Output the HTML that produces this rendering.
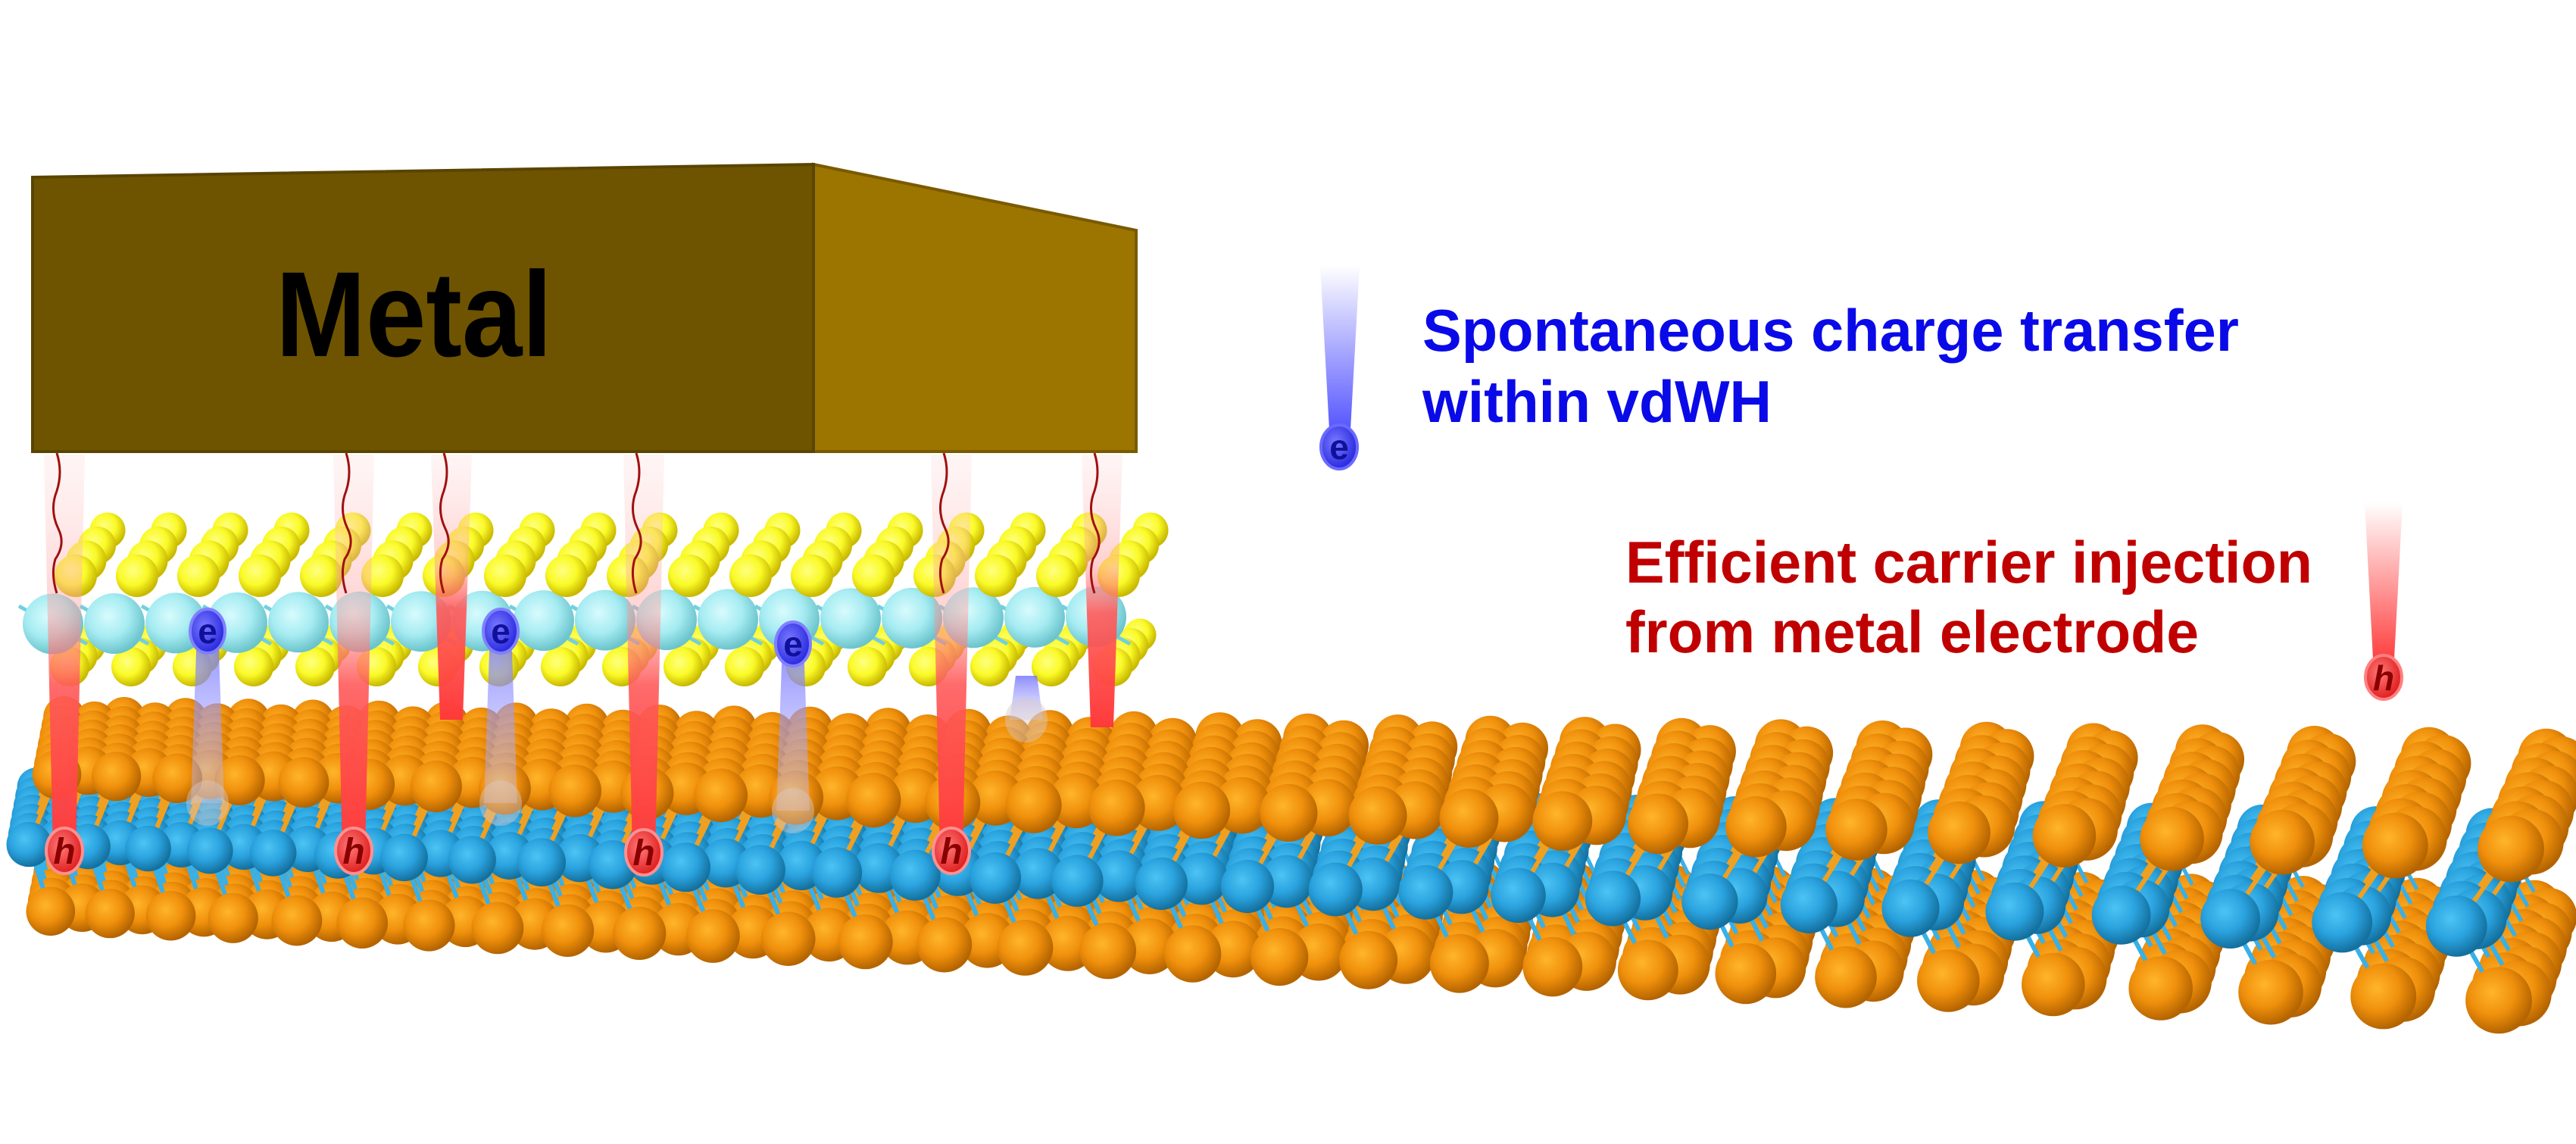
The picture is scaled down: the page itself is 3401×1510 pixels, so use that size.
<!DOCTYPE html>
<html><head><meta charset="utf-8"><style>
html,body{margin:0;padding:0;background:#fff;}
svg{display:block;}
text{font-family:"Liberation Sans",Arial,sans-serif;font-weight:bold;}
</style></head><body>
<svg id="s" xmlns="http://www.w3.org/2000/svg" width="3401" height="1510" viewBox="0 0 3401 1510">
<defs>
<radialGradient id="gO" cx="0.4" cy="0.38" r="0.62"><stop offset="0" stop-color="#ffb52a"/><stop offset="0.55" stop-color="#f0900c"/><stop offset="1" stop-color="#b46400"/></radialGradient>
<radialGradient id="gB" cx="0.4" cy="0.38" r="0.62"><stop offset="0" stop-color="#4cc4f4"/><stop offset="0.55" stop-color="#2aa2de"/><stop offset="1" stop-color="#14709e"/></radialGradient>
<radialGradient id="gC" cx="0.4" cy="0.38" r="0.62"><stop offset="0" stop-color="#d8fbfd"/><stop offset="0.55" stop-color="#a6ecf2"/><stop offset="1" stop-color="#6cc4cc"/></radialGradient>
<radialGradient id="gY" cx="0.4" cy="0.38" r="0.62"><stop offset="0" stop-color="#ffff80"/><stop offset="0.55" stop-color="#fafa28"/><stop offset="1" stop-color="#c8b800"/></radialGradient>
<linearGradient id="gR" x1="0" y1="0" x2="0" y2="1"><stop offset="0" stop-color="#ffd8d8" stop-opacity="0.25"/><stop offset="0.4" stop-color="#ff9a9a" stop-opacity="0.45"/><stop offset="0.58" stop-color="#ff5a5a" stop-opacity="0.9"/><stop offset="1" stop-color="#ff3a3a"/></linearGradient>
<linearGradient id="gBl" x1="0" y1="0" x2="0" y2="1"><stop offset="0" stop-color="#7070ff" stop-opacity="0.8"/><stop offset="1" stop-color="#c8c8ff" stop-opacity="0.35"/></linearGradient>
<linearGradient id="gE" x1="0" y1="0" x2="0" y2="1"><stop offset="0" stop-color="#ffffff"/><stop offset="1" stop-color="#4848ff"/></linearGradient>
<linearGradient id="gH" x1="0" y1="0" x2="0" y2="1"><stop offset="0" stop-color="#ffffff"/><stop offset="1" stop-color="#ff3030"/></linearGradient>
<radialGradient id="gEc" cx="0.4" cy="0.4" r="0.6"><stop offset="0" stop-color="#7a7aff"/><stop offset="1" stop-color="#2a2ae0"/></radialGradient>
<radialGradient id="gHc" cx="0.4" cy="0.4" r="0.6"><stop offset="0" stop-color="#ff7a7a"/><stop offset="1" stop-color="#e02020"/></radialGradient>
</defs>
<g id="lower"></g>
<g id="upper"></g>
<g id="bars"></g>
<polygon points="1074,217 1500,304 1500,596 1074,596" fill="#9c7400" stroke="#7a5a00" stroke-width="4"/>
<polygon points="43,234 1074,217 1074,596 43,596" fill="#6e5400" stroke="#5a4400" stroke-width="4"/>
<text x="364" y="470" font-size="160" textLength="365" lengthAdjust="spacingAndGlyphs" fill="#000">Metal</text>
<polygon points="1743,351 1795,351 1782,585 1756,585" fill="url(#gE)"/>
<ellipse cx="1768" cy="590" rx="24" ry="29" fill="url(#gEc)" stroke="#6a6aff" stroke-width="4"/>
<text x="1768" y="606" font-size="46" text-anchor="middle" fill="#10109a">e</text>
<polygon points="3122,663 3172,663 3160,888 3134,888" fill="url(#gH)"/>
<ellipse cx="3147" cy="894" rx="24" ry="29" fill="url(#gHc)" stroke="#ff8080" stroke-width="4"/>
<text x="3147" y="911" font-size="46" font-style="italic" text-anchor="middle" fill="#8a0000">h</text>
<text x="1878" y="463" font-size="78" textLength="1078" lengthAdjust="spacingAndGlyphs" fill="#0a0ae8">Spontaneous charge transfer</text>
<text x="1878" y="557" font-size="78" textLength="461" lengthAdjust="spacingAndGlyphs" fill="#0a0ae8">within vdWH</text>
<text x="2146" y="769" font-size="78" textLength="907" lengthAdjust="spacingAndGlyphs" fill="#c00000">Efficient carrier injection</text>
<text x="2146" y="861" font-size="78" textLength="757" lengthAdjust="spacingAndGlyphs" fill="#c00000">from metal electrode</text>
</svg>
<script>
const NS='http://www.w3.org/2000/svg';
function el(p,t,a){const e=document.createElementNS(NS,t);for(const k in a)e.setAttribute(k,a[k]);p.appendChild(e);return e;}
function interp(P,x){if(x<=P[0][0])return P[0][1];for(let i=1;i<P.length;i++){if(x<=P[i][0]){const t=(x-P[i-1][0])/(P[i][0]-P[i-1][0]);return P[i-1][1]+t*(P[i][1]-P[i-1][1]);}}return P[P.length-1][1];}
const L=document.getElementById('lower');
function atom(g,x,y,r,f){el(g,'circle',{cx:x.toFixed(1),cy:y.toFixed(1),r:r.toFixed(1),fill:'url(#'+f+')'});}
let cols=[],x=0;while(x<3300){cols.push(x);x+=80+x*0.024;}
const mx=cols[cols.length-1];cols=cols.map(v=>75+v*(3315-75)/mx);
const topP=[[0,1020],[1500,1067],[3400,1123]];
const K=6;
function P(cx,j,half){
  const s=80+cx*0.024;const H=75+cx*0.014;
  const t=Math.max(0,Math.min(1,(cx-1300)/1600));
  const shift=half?(0.5-0.36*t):0;
  const xx=cx+shift*s;
  const fac=0.12+cx*0.00008;
  const dx=j*fac*H/K,dy=-j*H/K,sc=1-0.15*j/K;
  const yT=interp(topP,xx);const r=(32+xx*0.0036)*sc;
  return {x:xx+dx,y:yT+dy,r:r,s:s,ob:180+xx*0.006,obl:92+xx*0.003,sc:sc};
}
const items=[];
for(let j=K;j>=0;j--){for(const h of [0.5,0]){const jj=j+h;if(jj>K)continue;items.push([jj,h]);}}
for(const [jj,h] of items){
  for(const cx of cols){const p=P(cx,jj,h); if(p.x>3390)continue;
    el(L,'line',{x1:p.x.toFixed(1),y1:p.y.toFixed(1),x2:(p.x-0.45*p.s).toFixed(1),y2:(p.y+p.obl).toFixed(1),stroke:'#f0a020','stroke-width':6*p.sc});
    el(L,'line',{x1:(p.x-0.45*p.s).toFixed(1),y1:(p.y+p.obl).toFixed(1),x2:(p.x-0.1*p.s).toFixed(1),y2:(p.y+p.ob).toFixed(1),stroke:'#38b0e8','stroke-width':6*p.sc});
    atom(L,p.x-0.1*p.s,p.y+p.ob,p.r,'gO');}
  for(const cx of cols){const p=P(cx,jj,h); if(p.x>3390)continue; atom(L,p.x-0.45*p.s,p.y+p.obl,p.r*0.92,'gB');}
  for(const cx of cols){const p=P(cx,jj,h); if(p.x>3390)continue; atom(L,p.x,p.y,p.r,'gO');}
}
const U=document.getElementById('upper');
const ux=[];for(let v=70;v<=1480;v+=81)ux.push(v);
const KY=3;
for(let j=KY;j>=0;j--){for(const cx of ux){atom(U,cx+22+j*12,880-j*14,26-j*1.5,'gY');}}
for(const cx of ux){el(U,'line',{x1:cx-45,y1:800,x2:cx+45,y2:850,stroke:'#70d0e0','stroke-width':5});}
for(const cx of ux){atom(U,cx,824-(cx/1480)*10,40,'gC');}
for(let j=KY;j>=0;j--){for(const cx of ux){atom(U,cx+30+j*14,760-j*20,28-j*1.5,'gY');}}
const B=document.getElementById('bars');
function redbar(x,yb,circle){
  el(B,'polygon',{points:`${x-27},600 ${x+27},600 ${x+15},${yb} ${x-15},${yb}`,fill:'url(#gR)'});
  el(B,'path',{d:`M${x-10},598 q8,25 0,50 q-10,25 2,50 q10,20 -4,40 q-6,20 2,45`,fill:'none',stroke:'#a01010','stroke-width':3});
  if(circle){el(B,'ellipse',{cx:x,cy:yb,rx:24,ry:30,fill:'url(#gHc)',stroke:'#ff9090','stroke-width':4});
    const t=el(B,'text',{x:x,y:yb+17,'font-size':48,'font-style':'italic','text-anchor':'middle',fill:'#8a0000'});t.textContent='h';}
}
function bluebar(x,yt,yb,circle){
  el(B,'polygon',{points:`${x-14},${yt} ${x+14},${yt} ${x+22},${yb} ${x-22},${yb}`,fill:'url(#gBl)'});
  el(B,'ellipse',{cx:x,cy:yb,rx:28,ry:30,fill:'#d8c8c8','fill-opacity':0.45});
  if(circle){el(B,'ellipse',{cx:x,cy:yt,rx:23,ry:29,fill:'url(#gEc)',stroke:'#8080ff','stroke-width':4});
    const t=el(B,'text',{x:x,y:yt+16,'font-size':46,'text-anchor':'middle',fill:'#10109a'});t.textContent='e';}
}
bluebar(274,833,1060,true);bluebar(661,833,1060,true);bluebar(1047,850,1070,true);bluebar(1355,892,950,false);
redbar(596,950,false);redbar(1455,960,false);
redbar(85,1123,true);redbar(467,1123,true);redbar(850,1125,true);redbar(1256,1123,true);
</script>
</body></html>
